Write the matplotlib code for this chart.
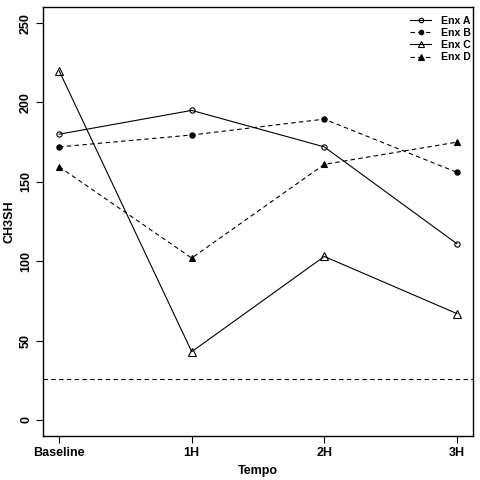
import matplotlib
matplotlib.use("Agg")
import matplotlib.pyplot as plt

plt.rcParams['font.family'] = ['Liberation Sans', 'DejaVu Sans']
plt.rcParams['font.weight'] = 'bold'

tempo = ["Baseline", "1H", "2H", "3H"]
enx_a = [180, 195, 172, 111]
enx_b = [172, 179.5, 189.5, 156]
enx_c = [220, 43, 103, 67]
enx_d = [159.5, 102, 161, 175]
ref_line = 25.7

series = [
    ("Enx A", enx_a, '-', 'o', 'none', 3.8),
    ("Enx B", enx_b, '--', 'o', 'black', 3.8),
    ("Enx C", enx_c, '-', '^', 'none', 5.2),
    ("Enx D", enx_d, '--', '^', 'black', 4.5),
]

fig = plt.figure(figsize=(4.8, 4.8), dpi=100)
ax = fig.add_axes([0.09, 0.092, 0.895, 0.893])

x = list(range(1, len(tempo) + 1))
for name, vals, ls, mk, fc, ms in series:
    line, = ax.plot(x, vals, linestyle=ls, color='black', linewidth=0.8,
                    marker=mk, markersize=ms, markerfacecolor=fc,
                    markeredgecolor='black', markeredgewidth=0.8, label=name)
    if ls == '--':
        line.set_dashes((4, 3))

ax.axhline(ref_line, color='black', linestyle='--', linewidth=0.8, dashes=(4, 3))

ax.set_xlim(0.88, 4.12)
ax.set_ylim(-10, 260)
ax.set_xticks(x)
ax.set_xticklabels(tempo, fontsize=9, fontweight='bold')
ax.set_yticks(range(0, 251, 50))
ax.set_yticklabels([str(v) for v in range(0, 251, 50)], rotation=90,
                   va='center', fontsize=9, fontweight='bold')
ax.tick_params(direction='out', length=5, width=0.8, pad=3)
for s in ax.spines.values():
    s.set_linewidth(1.0)

ax.set_xlabel("Tempo", fontsize=9, fontweight='bold', labelpad=4)
ax.set_ylabel("CH3SH", fontsize=9, fontweight='bold', labelpad=3)

leg = ax.legend(loc='upper right', bbox_to_anchor=(0.997, 0.982), frameon=False,
                fontsize=7.6, handlelength=2.0, handletextpad=0.9,
                labelspacing=0.2, borderaxespad=0, borderpad=0.1,
                markerscale=0.85)
for t in leg.get_texts():
    t.set_fontweight('bold')

fig.savefig("out.png", dpi=100)
